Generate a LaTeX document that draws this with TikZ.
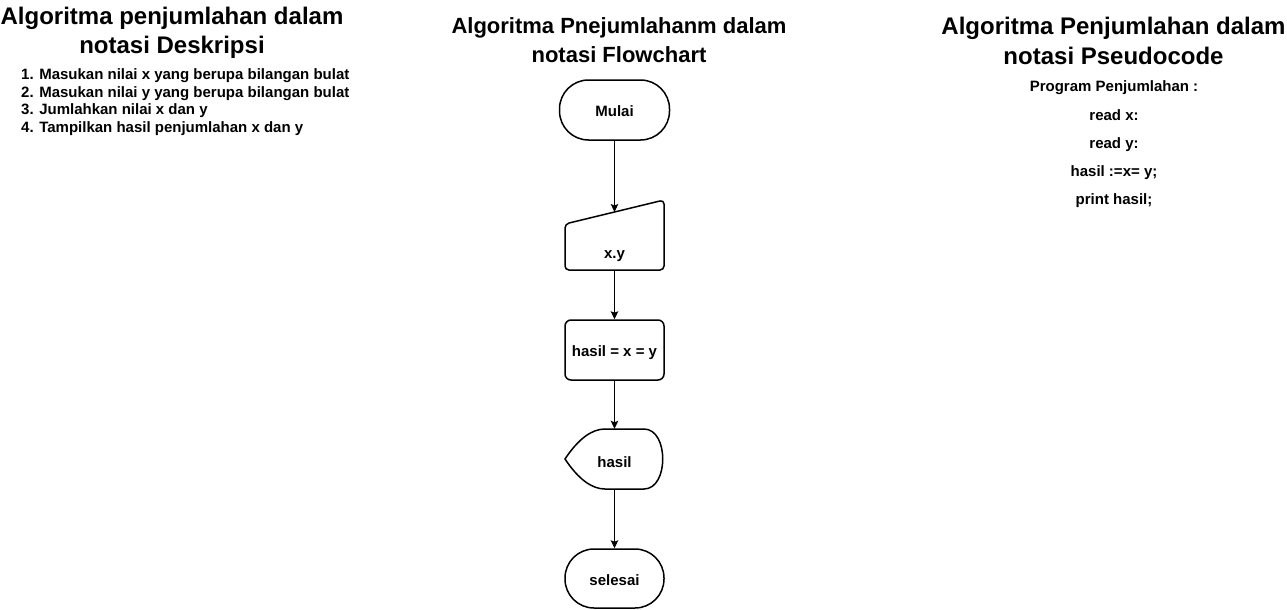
\documentclass[tikz,border=0pt]{standalone}
\usepackage{fontspec}
\setmainfont{Liberation Sans}
\usetikzlibrary{arrows.meta}
\begin{document}
\begin{tikzpicture}[x=1pt,y=-1pt,
  ttl/.style={font=\fontsize{24}{29}\selectfont\bfseries, anchor=base, inner sep=0pt},
  ttlsmall/.style={font=\fontsize{22}{27}\selectfont\bfseries, anchor=base, inner sep=0pt},
  txt/.style={font=\fontsize{15}{18}\selectfont\bfseries, inner sep=0pt},
  lst/.style={txt, anchor=base west},
  code/.style={txt, anchor=base},
  outl/.style={draw=black, line width=1.5pt},
  term/.style={outl, rectangle, rounded corners=29pt, txt, text height=13pt, text depth=0pt},
  procbox/.style={outl, rectangle, rounded corners=6pt, txt, text height=13pt, text depth=0pt},
  ghost/.style={rectangle, draw=none, inner sep=0pt},
  arr/.style={-{Stealth[length=8pt,width=7.5pt,inset=1.5pt]}, line width=1pt}]
\useasboundingbox[fill=white] (0,0) rectangle (1287,610);

% ---- Deskripsi ----
\node[ttl] (t1a) at (172,25) {Algoritma penjumlahan dalam};
\node[ttl] (t1b) at (172,54) {notasi Deskripsi};
\node[lst] (d1) at (21,79.5) {1. Masukan nilai x yang berupa bilangan bulat};
\node[lst] (d2) at (21,97) {2. Masukan nilai y yang berupa bilangan bulat};
\node[lst] (d3) at (21,114.7) {3. Jumlahkan nilai x dan y};
\node[lst] (d4) at (21,132.2) {4. Tampilkan hasil penjumlahan x dan y};

% ---- Flowchart ----
\node[ttlsmall] (t2a) at (619,33.5) {Algoritma Pnejumlahanm dalam};
\node[ttlsmall] (t2b) at (619,62.5) {notasi Flowchart};

\node[term, minimum width=110pt, minimum height=60pt] (mulai) at (614.5,110) {Mulai};

\node[ghost, minimum width=99pt, minimum height=70pt] (inp) at (614.5,235) {};
\draw[outl, rounded corners=4pt] (614.5,270) -- (565,270) -- (565,224) -- (664,200) -- (664,270) -- cycle;
\coordinate (inptop) at (614.5,212);
\node[code] (inplbl) at (614.5,258) {x.y};

\node[procbox, minimum width=99pt, minimum height=60pt] (proc) at (614.5,350) {hasil = x = y};

\node[ghost, minimum width=99pt, minimum height=60pt] (disp) at (614.5,459) {};
\draw[outl] (565,459) .. controls (578.3,439) and (591.7,429) .. (605,429) -- (644,429)
  .. controls (669,429) and (669,489) .. (644,489) -- (605,489)
  .. controls (591.7,489) and (578.3,479) .. (565,459) -- cycle;
\node[code] (displbl) at (614.5,467) {hasil};

\node[term, minimum width=99pt, minimum height=59pt] (sel) at (614.5,578.5) {selesai};

\draw[arr] (mulai.south) -- (inptop);
\draw[arr] (inp.south) -- (proc.north);
\draw[arr] (proc.south) -- (disp.north);
\draw[arr] (disp.south) -- (sel.north);

% ---- Pseudocode ----
\node[ttl] (t3a) at (1113.5,35) {Algoritma Penjumlahan dalam};
\node[ttl] (t3b) at (1113.5,64) {notasi Pseudocode};
\node[code] (p1) at (1114,92) {Program Penjumlahan :};
\node[code] (p2) at (1114,120) {read x:};
\node[code] (p3) at (1114,148) {read y:};
\node[code] (p4) at (1114,176.5) {hasil :=x= y;};
\node[code] (p5) at (1114,204.5) {print hasil;};
\end{tikzpicture}
\end{document}
